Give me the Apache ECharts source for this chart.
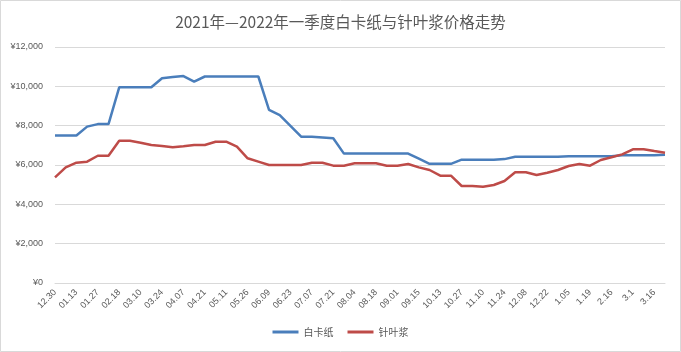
<!DOCTYPE html>
<html>
<head>
<meta charset="utf-8">
<script src="https://cdn.jsdelivr.net/npm/echarts@6/dist/echarts.min.js"></script>
<style>
  html, body { margin: 0; padding: 0; background: #fff; }
  #main { width: 681px; height: 352px; }
</style>
</head>
<body>
<div id="main"></div>
<script>
// weekly dates; every other one is shown on the axis
const dates = [
  '12.30', '01.06', '01.13', '01.20', '01.27', '02.03', '02.18', '02.25', '03.10', '03.17',
  '03.24', '03.31', '04.07', '04.14', '04.21', '04.28', '05.11', '05.19', '05.26', '06.02',
  '06.09', '06.16', '06.23', '06.30', '07.07', '07.14', '07.21', '07.28', '08.04', '08.11',
  '08.18', '08.25', '09.01', '09.08', '09.15', '09.29', '10.13', '10.20', '10.27', '11.03',
  '11.10', '11.17', '11.24', '12.01', '12.08', '12.15', '12.22', '12.29', '1.05', '1.12',
  '1.19', '1.26', '2.16', '2.23', '3.1', '3.9', '3.16', '3.23'
];

const whiteCard = [
  7500, 7500, 7500, 7950, 8080, 8080, 9950, 9950, 9950, 9950,
  10410, 10470, 10520, 10240, 10500, 10500, 10500, 10500, 10500, 10500,
  8800, 8540, 7990, 7440, 7440, 7400, 7360, 6580, 6580, 6580,
  6580, 6580, 6580, 6580, 6320, 6060, 6060, 6060, 6270, 6270,
  6270, 6270, 6300, 6420, 6420, 6420, 6420, 6420, 6450, 6450,
  6450, 6450, 6450, 6500, 6500, 6500, 6500, 6520
];

const softwoodPulp = [
  5375, 5880, 6120, 6170, 6470, 6470, 7236, 7236, 7134, 7017,
  6966, 6900, 6950, 7017, 7017, 7185, 7185, 6930, 6340, 6170,
  6000, 6000, 6000, 6000, 6118, 6118, 5966, 5966, 6085, 6085,
  6085, 5966, 5966, 6050, 5880, 5746, 5457, 5457, 4932, 4932,
  4898, 4983, 5187, 5627, 5627, 5492, 5610, 5746, 5950, 6050,
  5966, 6255, 6390, 6540, 6800, 6800, 6712, 6627
];

const yTicks = [0, 2000, 4000, 6000, 8000, 10000, 12000];

const chart = echarts.init(document.getElementById('main'));

const txt = '#595959';
const cjk = '"Noto Sans CJK SC", "Liberation Sans", sans-serif';

chart.setOption({
  animation: false,
  backgroundColor: '#fff',
  textStyle: { fontFamily: cjk },
  title: {
    text: '2021年—2022年一季度白卡纸与针叶浆价格走势',
    left: 'center',
    top: 9,
    textStyle: { color: txt, fontSize: 15.5, fontWeight: 'normal', fontFamily: cjk }
  },
  graphic: [{
    type: 'rect',
    shape: { x: 0.5, y: 0.5, width: 680, height: 351 },
    style: { fill: 'none', stroke: '#d9d9d9', lineWidth: 1 },
    silent: true
  }],
  legend: {
    bottom: 10,
    left: 'center',
    itemWidth: 26,
    itemHeight: 3,
    itemGap: 14,
    icon: 'rect',
    textStyle: { color: txt, fontSize: 10, fontFamily: cjk },
    data: ['白卡纸', '针叶浆']
  },
  grid: { left: 55, right: 16, top: 47, bottom: 69 },
  xAxis: {
    type: 'category',
    boundaryGap: false,
    data: dates,
    axisLine: { lineStyle: { color: '#d9d9d9' } },
    axisTick: { show: false },
    axisLabel: {
      interval: 1,
      rotate: 45,
      color: txt,
      fontSize: 9,
      fontFamily: '"Liberation Sans", sans-serif',
      margin: 8
    }
  },
  yAxis: {
    type: 'value',
    min: yTicks[0],
    max: yTicks[yTicks.length - 1],
    interval: 2000,
    axisLine: { show: false },
    axisTick: { show: false },
    splitLine: { lineStyle: { color: '#d9d9d9' } },
    axisLabel: {
      color: txt,
      fontSize: 9,
      fontFamily: '"Liberation Sans", sans-serif',
      margin: 12,
      formatter: v => '¥' + v.toLocaleString('en-US')
    }
  },
  series: [
    {
      name: '白卡纸',
      type: 'line',
      data: whiteCard,
      showSymbol: false,
      lineStyle: { color: '#4a7ebb', width: 2.5 },
      itemStyle: { color: '#4a7ebb' }
    },
    {
      name: '针叶浆',
      type: 'line',
      data: softwoodPulp,
      showSymbol: false,
      lineStyle: { color: '#be4b48', width: 2.5 },
      itemStyle: { color: '#be4b48' }
    }
  ]
});
</script>
</body>
</html>
